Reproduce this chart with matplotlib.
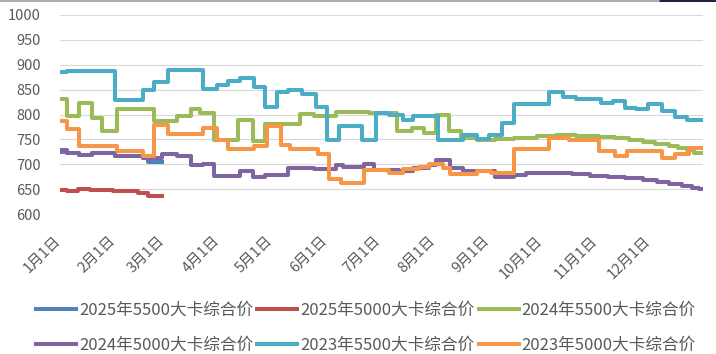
import matplotlib.pyplot as plt
from matplotlib.lines import Line2D
from matplotlib.patches import Rectangle
from matplotlib.transforms import ScaledTranslation

plt.rcParams['font.family'] = ['Noto Sans CJK SC', 'DejaVu Sans']

# x axis: day of year (0 = 1月1日)
month_days = [0, 31, 59, 90, 120, 151, 181, 212, 243, 273, 304, 334]
month_labels = ["1月1日", "2月1日", "3月1日", "4月1日", "5月1日", "6月1日",
                "7月1日", "8月1日", "9月1日", "10月1日", "11月1日", "12月1日"]

# each series: days where the price changes, and the price from that day on
days_2025_5500 = [0, 4, 11, 18, 31, 47, 50, 58]
vals_2025_5500 = [725, 722, 719, 722, 716, 713, 705, 705]

days_2025_5000 = [0, 4, 10, 17, 30, 44, 50, 58]
vals_2025_5000 = [649, 647, 650, 649, 646, 643, 636, 636]

days_2024_5500 = [0, 4, 11, 18, 24, 32, 53, 66, 74, 79, 87, 101, 109, 116, 136,
                  144, 156, 175, 191, 199, 206, 213, 220, 227, 236, 246, 257, 270,
                  281, 292, 305, 314, 322, 330, 337, 345, 350, 355, 359, 364]
vals_2024_5500 = [831, 797, 823, 793, 767, 811, 786, 796, 811, 803, 749, 789, 747, 781, 801,
                  796, 806, 803, 766, 772, 763, 799, 766, 752, 749, 750, 753, 756,
                  758, 757, 755, 752, 748, 745, 741, 737, 733, 729, 722, 722]

days_2024_5000 = [0, 4, 11, 18, 31, 47, 58, 66, 74, 81, 87, 102, 109, 116, 129,
                  144, 156, 160, 172, 178, 192, 200, 209, 213, 221, 228, 246, 257,
                  264, 281, 290, 300, 310, 320, 330, 338, 345, 352, 358, 362, 364]
vals_2024_5000 = [728, 722, 718, 723, 716, 713, 720, 716, 699, 700, 676, 686, 675, 678, 692,
                  690, 698, 695, 700, 688, 686, 693, 698, 709, 692, 686, 675, 678,
                  682, 683, 681, 677, 675, 673, 669, 665, 660, 656, 653, 651, 650]

days_2023_5500 = [0, 4, 31, 47, 53, 61, 81, 89, 95, 102, 110, 116, 123, 129, 137,
                  145, 151, 158, 171, 179, 186, 194, 200, 214, 228, 236, 243, 250,
                  257, 277, 285, 292, 306, 313, 320, 326, 333, 341, 348, 355, 364]
vals_2023_5500 = [886, 888, 829, 849, 866, 890, 851, 859, 867, 873, 856, 816, 845, 850, 842,
                  815, 748, 777, 749, 803, 799, 789, 796, 749, 759, 751, 759, 783,
                  821, 846, 835, 831, 823, 828, 814, 811, 821, 808, 795, 789, 789]

days_2023_5000 = [0, 4, 11, 32, 47, 53, 61, 81, 89, 95, 110, 117, 125, 130, 146,
                  152, 159, 172, 186, 194, 203, 209, 217, 221, 236, 244, 257, 277,
                  288, 305, 314, 321, 341, 348, 356, 364]
vals_2023_5000 = [786, 770, 737, 726, 716, 778, 760, 772, 749, 731, 737, 777, 738, 731, 721,
                  670, 662, 688, 682, 691, 695, 700, 693, 680, 686, 682, 730, 753,
                  749, 726, 717, 727, 712, 721, 732, 732]

series = [
    (days_2025_5500, vals_2025_5500, "2025年5500大卡综合价", "#4F81BD"),
    (days_2025_5000, vals_2025_5000, "2025年5000大卡综合价", "#C0504D"),
    (days_2024_5500, vals_2024_5500, "2024年5500大卡综合价", "#9BBB59"),
    (days_2024_5000, vals_2024_5000, "2024年5000大卡综合价", "#8064A2"),
    (days_2023_5500, vals_2023_5500, "2023年5500大卡综合价", "#4BACC6"),
    (days_2023_5000, vals_2023_5000, "2023年5000大卡综合价", "#F79646"),
]

fig = plt.figure(figsize=(7.16, 3.54), dpi=100)
ax = fig.add_axes([60 / 716, 1 - 214 / 354, 643 / 716, 199 / 354])

handles = []
for days, vals, label, color in series:
    line, = ax.plot(days, vals, drawstyle="steps-post", lw=2.9, color=color, label=label)
    handles.append(line)

ax.set_xlim(0, 364)
ax.set_ylim(600, 1000)
ax.set_yticks(range(600, 1001, 50))
ax.grid(axis="y", color="#D9D9D9", lw=0.8)
ax.set_axisbelow(True)
for s in ax.spines.values():
    s.set_visible(False)

ax.set_xticks(month_days)
ax.set_xticklabels(month_labels, rotation=45, ha="right")
ax.tick_params(axis="x", length=0, pad=14, labelsize=10.5, labelcolor="#595959")
ax.tick_params(axis="y", length=0, pad=14, labelsize=10.5, labelcolor="#595959")
shift = ScaledTranslation(0.03, 0, fig.dpi_scale_trans)
for lbl in ax.get_xticklabels():
    lbl.set_transform(lbl.get_transform() + shift)

# legend filled row by row like the original
order = [0, 3, 1, 4, 2, 5]
leg = fig.legend([handles[i] for i in order], [series[i][2] for i in order],
                 ncol=3, loc="center", bbox_to_anchor=(366 / 716, 1 - 328 / 354),
                 frameon=False, fontsize=12, handlelength=2.4, handletextpad=0.18,
                 columnspacing=0.25, labelspacing=1.1)
for t in leg.get_texts():
    t.set_color("#595959")

# page edge remnants at the top of the screenshot
fig.add_artist(Line2D([0, 0.92], [0.998, 0.998], color="#A0A0A0", lw=1.2))
fig.add_artist(Rectangle((0.92, 0.994), 0.08, 0.006, color="#1F2340", lw=0))

fig.savefig("out.png", dpi=100)
